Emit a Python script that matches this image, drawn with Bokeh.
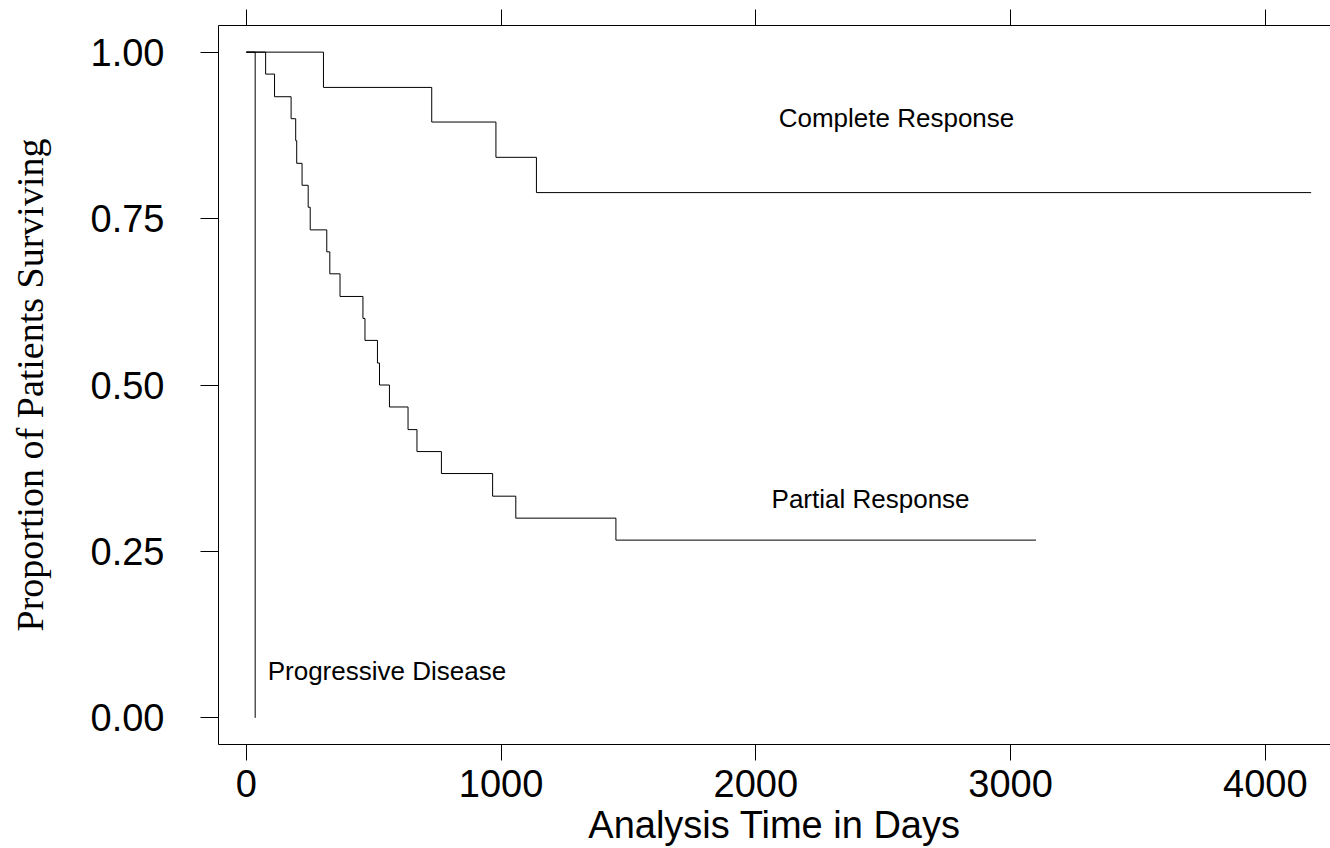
from bokeh.plotting import figure
from bokeh.models import LinearAxis, FixedTicker, NumeralTickFormatter, Range1d, ColumnDataSource
from bokeh.core.properties import value
from bokeh.embed import file_html
from bokeh.resources import INLINE

# Kaplan-Meier survival estimates
complete_t = [0, 303, 728, 980, 1139, 4180]
complete_s = [1.0, 0.947, 0.895, 0.842, 0.789, 0.789]

partial_t = [0, 76, 111, 176, 194, 198, 219, 243, 251, 316, 328, 368, 458, 466,
             515, 523, 562, 635, 670, 766, 967, 1058, 1451, 3100]
partial_s = [1.0, 0.967, 0.933, 0.9, 0.867, 0.833, 0.8, 0.767, 0.733, 0.7, 0.667,
             0.633, 0.6, 0.567, 0.533, 0.5, 0.467, 0.433, 0.4, 0.367, 0.333, 0.3,
             0.267, 0.267]

progressive_t = [0, 35]
progressive_s = [1.0, 0.0]

x_ticks = [0, 1000, 2000, 3000, 4000]
y_ticks = [0.0, 0.25, 0.5, 0.75, 1.0]

group_names = ["Complete Response", "Partial Response", "Progressive Disease"]
name_x = [2090, 2062, 84]
name_y = [0.901, 0.329, 0.071]

SANS = "Liberation Sans"
SERIF = "Liberation Serif"

p = figure(width=1330, height=848, output_backend="svg", toolbar_location=None,
           x_range=Range1d(-109, 4256), y_range=Range1d(-0.040, 1.040),
           x_axis_location=None, y_axis_location=None,
           min_border_left=218, min_border_right=0, min_border_top=25, min_border_bottom=103)
p.grid.visible = False
p.outline_line_color = None
p.background_fill_color = "white"
p.border_fill_color = "white"

def style_axis(ax, tick_out):
    ax.axis_line_color = "black"
    ax.axis_line_width = 1
    ax.major_tick_line_color = "black"
    ax.major_tick_line_width = 1
    ax.major_tick_out = tick_out
    ax.major_tick_in = 0
    ax.minor_tick_out = 0
    ax.minor_tick_in = 0
    ax.major_label_text_font = SANS
    ax.major_label_text_font_size = "38px"
    ax.major_label_text_color = "black"

xaxis = LinearAxis(ticker=FixedTicker(ticks=x_ticks), axis_label="Analysis Time in Days")
style_axis(xaxis, 16)
xaxis.major_label_standoff = 9
xaxis.axis_label_standoff = 4
xaxis.axis_label_text_font = SANS
xaxis.axis_label_text_font_size = "38px"
xaxis.axis_label_text_font_style = "normal"
xaxis.axis_label_text_color = "black"
p.add_layout(xaxis, "below")

top = LinearAxis(ticker=FixedTicker(ticks=x_ticks),
                 major_label_overrides={t: "" for t in x_ticks})
style_axis(top, 16)
top.major_label_text_font_size = "1px"
top.major_label_standoff = 0
p.add_layout(top, "above")

yaxis = LinearAxis(ticker=FixedTicker(ticks=y_ticks), formatter=NumeralTickFormatter(format="0.00"),
                   axis_label="Proportion of Patients Surviving")
style_axis(yaxis, 18)
yaxis.major_label_standoff = 36
yaxis.axis_label_standoff = 37
yaxis.axis_label_text_font = SERIF
yaxis.axis_label_text_font_size = "38px"
yaxis.axis_label_text_font_style = "normal"
yaxis.axis_label_text_color = "black"
p.add_layout(yaxis, "left")

p.step(complete_t, complete_s, mode="after", line_color="black", line_width=1)
p.step(partial_t, partial_s, mode="after", line_color="black", line_width=1)
p.step(progressive_t, progressive_s, mode="after", line_color="black", line_width=1)

src = ColumnDataSource(dict(x=name_x, y=name_y, t=group_names))
p.text(x="x", y="y", text="t", source=src, text_font=value(SANS), text_font_size="26px",
       text_align="left", text_baseline="alphabetic", text_color="black")

open("out.html", "w").write(file_html(p, INLINE))
